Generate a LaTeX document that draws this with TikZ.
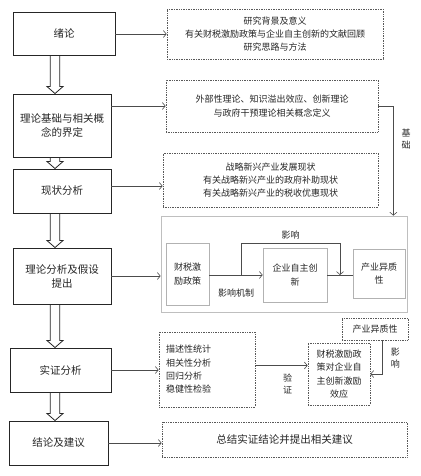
\documentclass[tikz,border=0pt]{standalone}
\usepackage{fontspec}
\setmainfont{Noto Sans CJK SC}
\usetikzlibrary{arrows.meta,calc}

\begin{document}
\begin{tikzpicture}[
  x = 1pt, y = -1pt,
  > = {Straight Barb[length=3pt,width=7pt]},
  stagebox/.style = {rectangle, draw=black!85, line width=0.9pt, align=center,
                     inner sep=0pt, text=black!85, font=\fontsize{10.5}{14}\selectfont},
  notebox/.style = {rectangle, draw=black!65, densely dotted, line width=0.7pt,
                    align=center, inner sep=0pt, text=black!85,
                    font=\fontsize{9}{13.3}\selectfont},
  framebox/.style = {rectangle, draw=black!25, line width=0.7pt, inner sep=0pt},
  partbox/.style = {rectangle, draw=black!30, line width=0.6pt, align=center,
                    inner sep=0pt, text=black!85, font=\fontsize{9}{13.3}\selectfont},
  link/.style = {->, draw=black!70, line width=0.6pt},
  tag/.style = {inner sep=1pt, align=center, text=black!85,
                font=\fontsize{9}{12}\selectfont},
  hollow/.style = {draw=black!85, line width=0.8pt, to path={
      ($(\tikztostart)+(-4.7pt,0)$) -- ($(\tikztotarget)+(-4.7pt,7pt)$)
      -- ($(\tikztotarget)+(-8pt,7pt)$) -- (\tikztotarget)
      -- ($(\tikztotarget)+(8pt,7pt)$) -- ($(\tikztotarget)+(4.7pt,7pt)$)
      -- ($(\tikztostart)+(4.7pt,0)$)}}
]
\fill[white] (0,0) rectangle (420,476);
\useasboundingbox (0,0) rectangle (420,476);

% main stages
\node[stagebox, minimum width=102pt, minimum height=43pt] (xulun) at (64,33.5) {绪论};
\node[stagebox, minimum width=98pt, minimum height=63pt] (lilun) at (62,125.5) {理论基础与相关概\\念的界定};
\node[stagebox, minimum width=98pt, minimum height=44pt] (xianzhuang) at (62,191) {现状分析};
\node[stagebox, minimum width=98pt, minimum height=56pt] (fenxi) at (62,276) {理论分析及假设\\提出};
\node[stagebox, minimum width=101pt, minimum height=44pt] (shizheng) at (60.5,370) {实证分析};
\node[stagebox, minimum width=99pt, minimum height=44pt] (jielun) at (58.5,443) {结论及建议};

% hollow arrows between stages
\coordinate (ax) at (55,0);
\draw[hollow] (xulun.south -| ax) to (lilun.north -| ax);
\draw[hollow] (lilun.south -| ax) to (xianzhuang.north -| ax);
\draw[hollow] (xianzhuang.south -| ax) to (fenxi.north -| ax);
\draw[hollow] (fenxi.south -| ax) to (shizheng.north -| ax);
\draw[hollow] (shizheng.south -| ax) to (jielun.north -| ax);

% contents
\node[notebox, minimum width=216pt, minimum height=50pt] (beijing) at (275,34)
  {研究背景及意义\\有关财税激励政策与企业自主创新的文献回顾\\研究思路与方法};
\node[notebox, minimum width=212pt, minimum height=52pt] (jichu) at (272,106)
  {外部性理论、知识溢出效应、创新理论\\与政府干预理论相关概念定义};
\node[notebox, minimum width=215pt, minimum height=54pt] (xzbox) at (270.5,180)
  {战略新兴产业发展现状\\有关战略新兴产业的政府补助现状\\有关战略新兴产业的税收优惠现状};

% mechanism frame
\node[framebox, minimum width=246pt, minimum height=96pt] (moxing) at (284,264) {};
\node[partbox, minimum width=43pt, minimum height=62pt] (zc) at (187.5,274) {财税激\\励政策};
\node[partbox, minimum width=64pt, minimum height=54pt] (qy) at (295,275) {企业自主创\\新};
\node[partbox, minimum width=52pt, minimum height=49pt] (cy) at (379,273.5) {产业异质\\性};

% empirical part
\node[notebox, minimum width=96pt, minimum height=75pt, text width=82pt,
      inner xsep=7pt, align=left] (fangfa) at (207,369.5)
  {描述性统计\\相关性分析\\回归分析\\稳健性检验};
\node[notebox, minimum width=62pt, minimum height=62pt] (xiaoying) at (339,374)
  {财税激励政\\策对企业自\\主创新激励\\效应};
\node[notebox, minimum width=66pt, minimum height=22pt] (yizhi) at (375,329) {产业异质性};
\node[notebox, minimum width=245pt, minimum height=35pt,
      font=\fontsize{10.5}{14}\selectfont] (jianyi) at (284.5,439.5) {总结实证结论并提出相关建议};

% stage to content
\draw[link] (xulun.east |- beijing.west) -- (beijing.west);
\draw[link] (lilun.east |- jichu.west) -- (jichu.west);
\draw[link] ([yshift=5pt]xianzhuang.east) -- ([yshift=5pt]xianzhuang.east -| xzbox.west);
\draw[link] (fenxi.east) -- (fenxi.east -| moxing.west);
\draw[link] (shizheng.east) -- (shizheng.east -| fangfa.west);
\draw[link] (jielun.east) -- (jielun.east -| jianyi.west);

% basis
\draw[link] (jichu.east) -| node[tag, pos=0.65, right=7pt] {基\\础} ([xshift=-14pt]moxing.north east);

% mechanism
\draw[link] (zc.east |- qy.west) -- node[tag, below=12.5pt] {影响机制} (qy.west);
\coordinate (fork) at ($(zc.east |- qy)!0.6!(qy.west)$);
\coordinate (mid) at ($(qy.east)!0.5!(qy.east -| cy.west)$);
\draw[link] (fork) -- ++(0,-32) -| node[tag, pos=0.25, above=3pt] {影响} (mid);
\draw[draw=black!70, line width=0.6pt] (qy.east) -- (qy.east -| cy.west);

% verification
\draw[link] ([yshift=4pt]fangfa.east) -- node[tag, below=7pt, xshift=6pt] {验\\证}
  ([yshift=4pt]fangfa.east -| xiaoying.west);
\draw[link] ([xshift=7pt]yizhi.south) |- node[tag, pos=0.27, right=7.5pt] {影\\响} (xiaoying.east);
\end{tikzpicture}
\end{document}
